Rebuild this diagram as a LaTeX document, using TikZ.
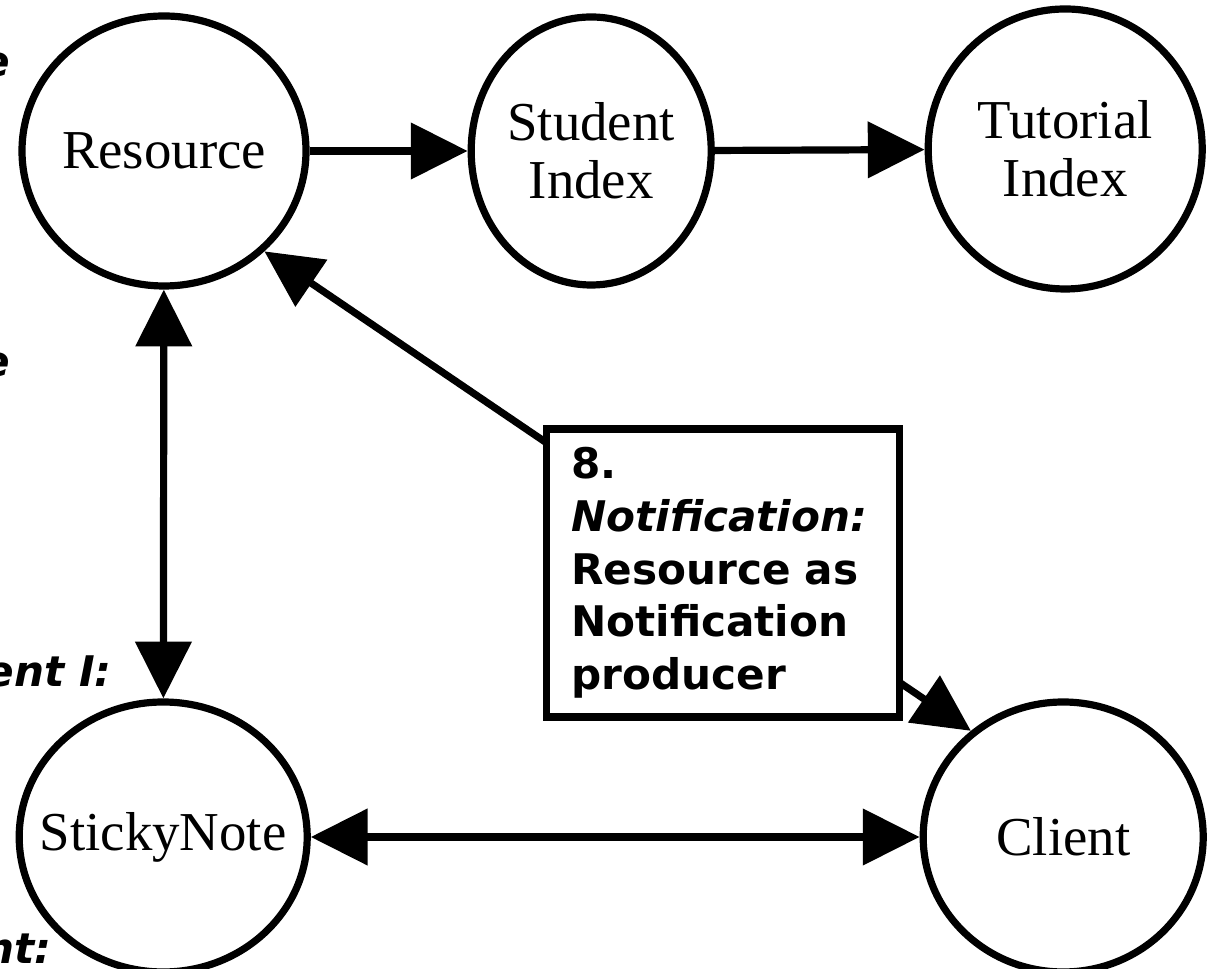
\documentclass[tikz,border=0pt]{standalone}
\usepackage{fontspec}
\setmainfont{Liberation Serif}
\newfontfamily\notefont{DejaVu Sans}
\usepackage{tikz}
\usetikzlibrary{arrows.meta,positioning,shapes.geometric}

\begin{document}
\begin{tikzpicture}[
  >={Triangle[length=1.42cm,width=1.38cm]},
  state/.style={ellipse,draw,line width=0.18cm,minimum width=7.1cm,minimum height=6.75cm,
    inner xsep=-2.2cm,inner ysep=-1.4cm,align=center,font=\fontsize{39}{41}\selectfont},
  link/.style={line width=0.18cm,->},
  twoway/.style={line width=0.18cm,<->},
  notebox/.style={draw,fill=white,line width=0.18cm,minimum width=8.83cm,minimum height=7.2cm,
    text width=7.6cm,align=left,inner xsep=0.6cm,font=\notefont\bfseries\fontsize{30}{37.5}\selectfont},
  cutlabel/.style={anchor=base east,inner sep=0pt,font=\notefont\bfseries\itshape\fontsize{30}{37}\selectfont}
]
\clip (0,0) rectangle (30.2,24.225);
% states
\node[state] (resource) at (4.10,20.45) {Resource};
\node[state,minimum width=6.0cm,minimum height=6.7cm] (student) at (14.78,20.45) {Student\\Index};
\node[state,minimum width=6.85cm,minimum height=7.0cm] (tutorial) at (26.63,20.5) {Tutorial\\Index};
\node[state,minimum width=7.2cm] (sticky) at (4.08,3.3) {StickyNote};
\node[state,minimum width=7.0cm] (client) at (26.58,3.3) {Client};
% connectors
\draw[link] (resource) -- (student);
\draw[link] (student) -- (tutorial);
\draw[twoway] (resource) -- (sticky);
\draw[twoway] (sticky) -- (client);
\draw[twoway] (resource.-45) -- (client.131);
\node[notebox] (notify) at (18.08,9.9)
  {8.\\ \textit{Notification:}\\ Resource as\\ Notification\\ producer};
% labels cut by the frame
\node[cutlabel] (cuta) at (0.25,22.3) {e};
\node[cutlabel] (cutb) at (0.25,14.8) {e};
\node[cutlabel] (cutc) at (2.8,7.05) {ent I:};
\node[cutlabel] (cutd) at (1.3,0.125) {nt:};
\end{tikzpicture}
\end{document}
